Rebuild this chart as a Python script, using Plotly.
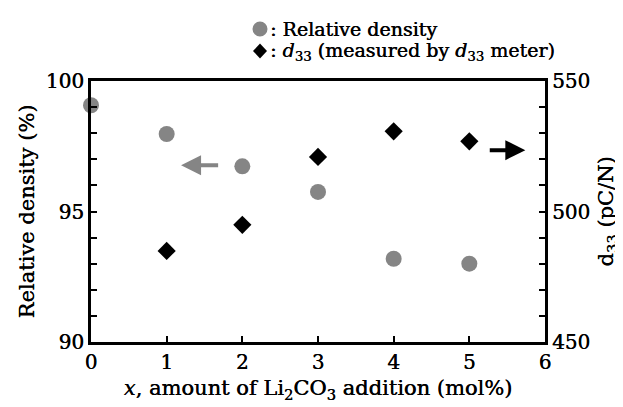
import plotly.graph_objects as go

x_density = [0, 1, 2, 3, 4, 5]
relative_density = [99.07, 97.97, 96.73, 95.75, 93.19, 93.0]
x_d33 = [1, 2, 3, 4, 5]
d33_values = [484.9, 494.9, 520.9, 530.7, 526.9]

FONT = "DejaVu Serif"
GRAY = "#858585"
FS = 21
SH = "0.4px 0px 0px black"

W, H = 623, 407
L, R, T, B = 83, 86, 73, 73
PW, PH = W - L - R, H - T - B


def px(xp):
    return (xp - L) / PW


def py(yp):
    return 1 - (yp - T) / PH


def f(size, color="black"):
    return dict(family=FONT, size=size, color=color, shadow=SH if color == "black" else "none")


fig = go.Figure()
fig.add_trace(go.Scatter(x=x_density, y=relative_density, mode="markers",
                         marker=dict(symbol="circle", size=16, color=GRAY),
                         yaxis="y", showlegend=False, cliponaxis=False))
fig.add_trace(go.Scatter(x=x_d33, y=d33_values, mode="markers",
                         marker=dict(symbol="diamond", size=14, color="black"),
                         yaxis="y2", showlegend=False, cliponaxis=False))

# gray arrow pointing left (relative density -> left axis)
fig.add_annotation(x=1.19, y=96.77, ax=1.70, ay=96.77, xref="x", yref="y", axref="x", ayref="y",
                   showarrow=True, arrowhead=2, arrowsize=1, arrowwidth=4, arrowcolor=GRAY, text="")
# black arrow pointing right (d33 -> right axis)
fig.add_annotation(x=5.74, y=97.35, ax=5.25, ay=97.35, xref="x", yref="y", axref="x", ayref="y",
                   showarrow=True, arrowhead=2, arrowsize=1, arrowwidth=4, arrowcolor="black", text="")

# legend symbols (drawn as shapes in paper coordinates)
cx, cy1, cy2 = 252, 21, 43
fig.add_shape(type="circle", xref="paper", yref="paper",
              x0=px(cx - 7.5), x1=px(cx + 7.5), y0=py(cy1 + 7.5), y1=py(cy1 - 7.5),
              fillcolor=GRAY, line=dict(width=0))
fig.add_shape(type="path", xref="paper", yref="paper",
              path=(f"M {px(cx - 7)},{py(cy2)} L {px(cx)},{py(cy2 - 7.5)} "
                    f"L {px(cx + 7)},{py(cy2)} L {px(cx)},{py(cy2 + 7.5)} Z"),
              fillcolor="black", line=dict(width=0))
# legend texts
fig.add_annotation(x=px(261), y=py(21), xref="paper", yref="paper", xanchor="left", yanchor="middle",
                   text=": Relative density", showarrow=False, font=f(19), borderpad=0)
fig.add_annotation(x=px(261), y=py(44), xref="paper", yref="paper", xanchor="left", yanchor="middle",
                   text=": <i>d</i><sub>33</sub> (measured by <i>d</i><sub>33</sub> meter)",
                   showarrow=False, font=f(19), borderpad=0)

axis_common = dict(showgrid=False, zeroline=False, linecolor="black", linewidth=3,
                   ticks="inside", tickcolor="black", tickwidth=1.5, ticklen=6, automargin=False,
                   tickfont=f(20))

fig.update_layout(
    width=W, height=H,
    margin=dict(l=L, r=R, t=T, b=B),
    paper_bgcolor="white", plot_bgcolor="white",
    font=dict(family=FONT, size=FS, color="black"),
    xaxis=dict(range=[0, 6], dtick=1, tick0=0, showline=True, mirror=True,
               title=dict(text="<i>x</i>, amount of Li<sub>2</sub>CO<sub>3</sub> addition (mol%)",
                          font=f(FS), standoff=8),
               **axis_common),
    yaxis=dict(range=[90, 100], tickvals=[90, 95, 100], showline=True,
               minor=dict(dtick=1, ticks="inside", ticklen=6, tickcolor="black", tickwidth=1.5),
               title=dict(text="Relative density (%)", font=f(FS), standoff=6),
               **axis_common),
    yaxis2=dict(range=[450, 550], tickvals=[450, 500, 550], overlaying="y", side="right", showline=True,
                minor=dict(dtick=10, ticks="inside", ticklen=6, tickcolor="black", tickwidth=1.5),
                title=dict(text="d<sub>33</sub> (pC/N)", font=f(FS), standoff=10),
                **axis_common),
)

fig.write_html("out.html")
